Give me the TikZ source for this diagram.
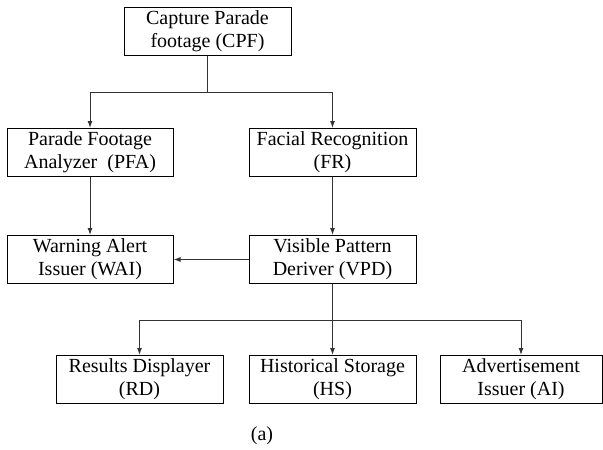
\documentclass[tikz,border=0pt]{standalone}
\usepackage{fontspec}
\setmainfont{Liberation Serif}
\usetikzlibrary{arrows.meta}
\begin{document}
\begin{tikzpicture}[x=1pt,y=-1pt,
  box/.style={draw=black,line width=1pt,rectangle,align=center,inner sep=0pt,
    minimum height=48pt,font=\fontsize{20}{23}\selectfont},
  conn/.style={line width=1pt,draw=black!80},
  arr/.style={conn,-{Latex[length=7pt,width=5pt]}}]
\useasboundingbox (0,0) rectangle (603,450);
\node[box,minimum width=167pt] (cpf) at (207.5,31) {Capture Parade\\footage (CPF)};
\node[box,minimum width=166pt] (pfa) at (90,152.5) {Parade Footage\\Analyzer\ \ (PFA)};
\node[box,minimum width=167pt] (fr) at (332.5,152.5) {Facial Recognition\\(FR)};
\node[box,minimum width=166pt] (wai) at (90,259.5) {Warning Alert\\Issuer (WAI)};
\node[box,minimum width=167pt] (vpd) at (332.5,259.5) {Visible Pattern\\Deriver (VPD)};
\node[box,minimum width=167pt] (rd) at (139.5,379.5) {Results Displayer\\(RD)};
\node[box,minimum width=167pt] (hs) at (332.5,379.5) {Historical Storage\\(HS)};
\node[box,minimum width=162pt] (ai) at (521,379.5) {Advertisement\\Issuer (AI)};
\node[font=\fontsize{20}{23}\selectfont] (cap) at (262,436) {(a)};
\coordinate (j1) at (207.5,92);
\coordinate (j2) at (332.5,320);
\draw[conn] (cpf.south) -- (j1);
\draw[arr] (j1) -| (pfa.north);
\draw[arr] (j1) -| (fr.north);
\draw[arr] (pfa.south) -- (wai.north);
\draw[arr] (fr.south) -- (vpd.north);
\draw[arr] (vpd.west) -- (wai.east);
\draw[conn] (vpd.south) -- (j2);
\draw[arr] (j2) -| (rd.north);
\draw[arr] (j2) -- (hs.north);
\draw[arr] (j2) -| (ai.north);
\end{tikzpicture}
\end{document}
